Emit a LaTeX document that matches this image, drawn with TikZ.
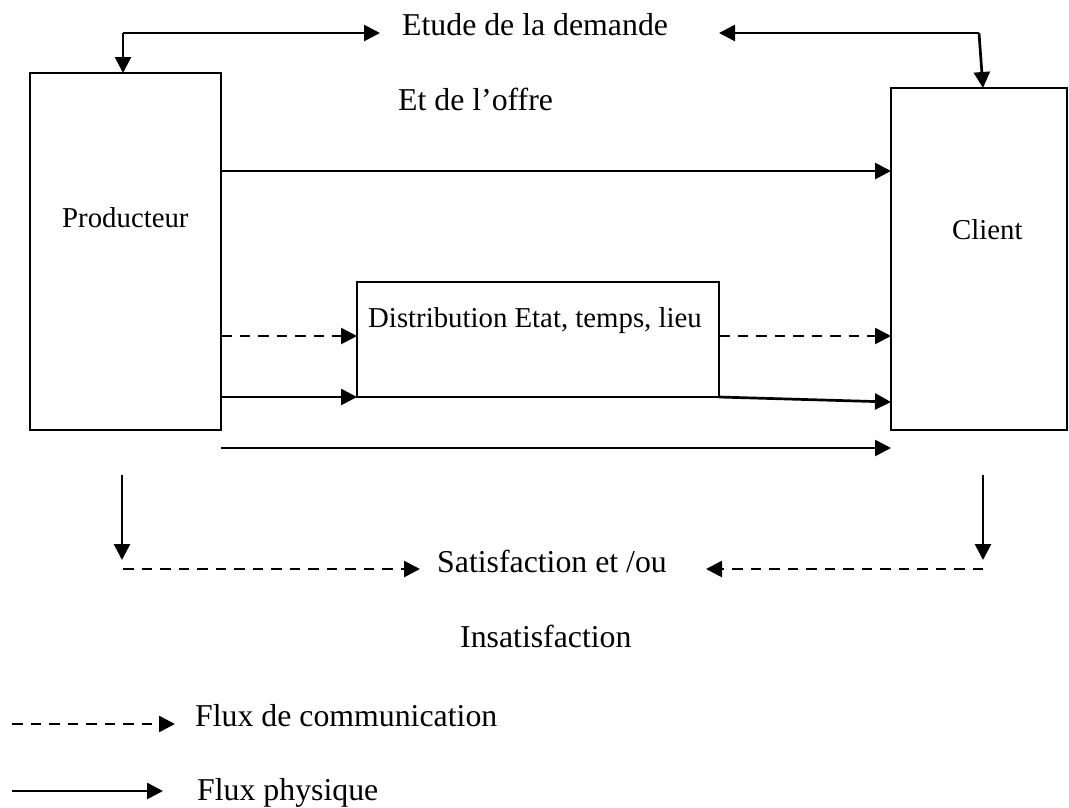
\documentclass[tikz,border=0pt]{standalone}
\usepackage{fontspec}
\setmainfont{Liberation Serif}
\usetikzlibrary{arrows.meta}

\tikzset{
  box/.style={draw, line width=2.3pt, inner sep=0pt, outer sep=0pt},
  phys/.style={line width=2.7pt, -{Triangle[length=16pt,width=16pt]}},
  comm/.style={phys, dash pattern=on 10.5pt off 8pt},
  bigtxt/.style={anchor=base west, inner sep=0pt, font=\fontsize{31.8}{38}\selectfont},
  boxtxt/.style={anchor=base west, inner sep=0pt, font=\fontsize{28.8}{34}\selectfont},
}

\begin{document}
\begin{tikzpicture}[x=1pt, y=-1pt]
\useasboundingbox (0,0) rectangle (1069,807);

% actors and distribution channel
\node[box, minimum width=191pt, minimum height=357pt] (prod) at (125.5,251.5) {};
\node[box, minimum width=176pt, minimum height=342pt] (client) at (979,259) {};
\node[box, minimum width=362pt, minimum height=115pt] (dist) at (538,339.5) {};

\node[boxtxt] (prodtxt) at (62,227) {Producteur};
\node[boxtxt] (clienttxt) at (952,239) {Client};
\node[boxtxt] (disttxt) at (368,327) {Distribution Etat, temps, lieu};

% labels
\node[bigtxt] (etude) at (402,35) {Etude de la demande};
\node[bigtxt] (offre) at (398,110) {Et de l’offre};
\node[bigtxt] (satis) at (437,572) {Satisfaction et /ou};
\node[bigtxt] (insatis) at (460,647) {Insatisfaction};
\node[bigtxt] (legcomm) at (195,726) {Flux de communication};
\node[bigtxt] (legphys) at (197,800) {Flux physique};

% market study loop at the top
\coordinate (tl) at (123,33);
\coordinate (tlend) at (380,33);
\coordinate (tr) at (979,33);
\coordinate (trend) at (719,33);
\draw[phys] (tl) -- (tlend);
\draw[phys] (tl) -- (prod.north -| tl);
\draw[phys] (tr) -- (trend);
\draw[phys] (tr) -- ([xshift=4pt]client.north);

% flows between producer, distribution and client
\draw[phys] ([yshift=-98pt]prod.north east) -- ([yshift=-83pt]client.north west);
\draw[comm] ([yshift=-263pt]prod.north east) -- ([yshift=3.5pt]dist.west);
\draw[comm] ([yshift=3.5pt]dist.east) -- ([yshift=-248pt]client.north west);
\draw[phys] ([yshift=33pt]prod.south east) -- (dist.south west);
\draw[phys] (dist.south east) -- ([yshift=28pt]client.south west);
\draw[phys] ([yshift=-18pt]prod.south east) -- ([yshift=-18pt]client.south west);

% satisfaction feedback at the bottom
\coordinate (blt) at (122,475);
\coordinate (blb) at (122,560);
\coordinate (bls) at (123,569);
\coordinate (ble) at (420,569);
\coordinate (brt) at (983,475);
\coordinate (brb) at (983,560);
\coordinate (brs) at (983,569);
\coordinate (bre) at (706,569);
\draw[phys] (blt) -- (blb);
\draw[comm] (bls) -- (ble);
\draw[phys] (brt) -- (brb);
\draw[comm] (brs) -- (bre);

% legend
\coordinate (lcs) at (12,724);
\coordinate (lce) at (175,724);
\coordinate (lps) at (12,791);
\coordinate (lpe) at (163,791);
\draw[comm] (lcs) -- (lce);
\draw[phys] (lps) -- (lpe);
\end{tikzpicture}
\end{document}
